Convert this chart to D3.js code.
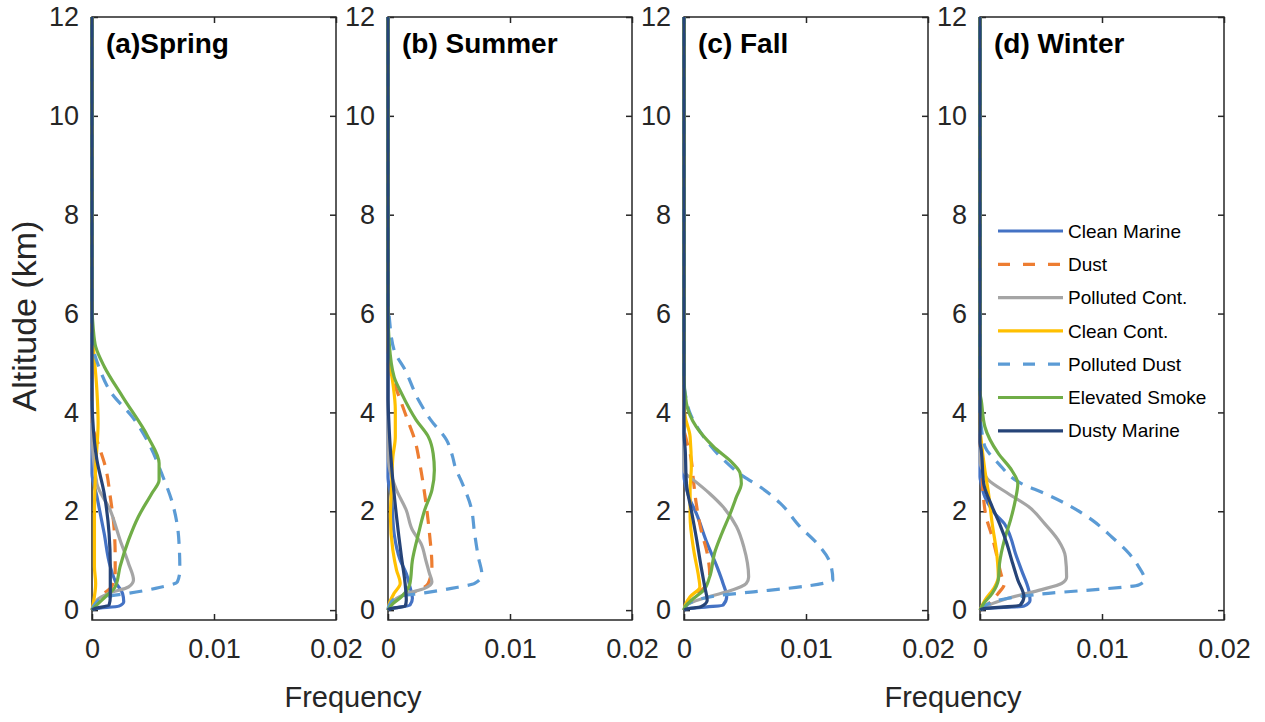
<!DOCTYPE html>
<html>
<head>
<meta charset="utf-8">
<script src="https://cdn.jsdelivr.net/npm/d3@7"></script>
<style>
  body { margin: 0; background: #fff; }
  text { font-family: "Liberation Sans", Arial, sans-serif; }
</style>
</head>
<body>
<div class="root"></div>
<script>
const width = 1265;
const height = 722;

const seriesNames = ["Clean Marine", "Dust", "Polluted Cont.", "Clean Cont.", "Polluted Dust", "Elevated Smoke", "Dusty Marine"];
const seriesColors = ["#4472C4", "#ED7D31", "#A5A5A5", "#FFC000", "#5B9BD5", "#70AD47", "#264478"];
const seriesDashed = [false, true, false, false, true, false, false];

const panelTitles = ["(a)Spring", "(b) Summer", "(c) Fall", "(d) Winter"];
const altTicks = [0, 2, 4, 6, 8, 10, 12];
const freqTicks = [0, 0.01, 0.02];

// each profile: [altitude km, frequency]
const spring = [
  [[12,0],[2.77,0],[2.3,0.0004],[1.55,0.001],[0.88,0.0015],[0.54,0.002],[0.34,0.0025],[0.17,0.0026],[0.08,0.0022],[0.03,0.0003],[0,0]],
  [[12,0],[3.8,0],[3.37,0.0005],[2.9,0.0011],[2.29,0.0015],[1.69,0.0018],[1.08,0.0019],[0.74,0.0019],[0.47,0.0016],[0.3,0.0008],[0.1,0.0002],[0,0]],
  [[12,0],[3.64,0],[2.56,0.0004],[2.02,0.0015],[1.42,0.0023],[0.94,0.003],[0.61,0.0034],[0.47,0.003],[0.34,0.0014],[0.2,0.0004],[0,0]],
  [[12,0],[5.6,0],[5.33,0.0001],[4.45,0.0004],[3.78,0.0005],[2.9,0.0003],[1.89,0.0002],[0.88,0.0002],[0.54,0.0003],[0.13,0.0001],[0,0]],
  [[12,0],[5.6,0],[5.3,0.0001],[4.93,0.00055],[4.39,0.0016],[3.91,0.0033],[3.3,0.0048],[2.77,0.0057],[2.16,0.0066],[1.48,0.0071],[0.81,0.0072],[0.57,0.007],[0.44,0.0052],[0.34,0.003],[0.27,0.0011],[0.07,0.0001],[0,0]],
  [[12,0],[6.2,0],[5.7,0.0001],[5.33,0.0003],[4.93,0.001],[4.32,0.0025],[3.5,0.0046],[2.97,0.0055],[2.63,0.0055],[2.36,0.0049],[1.89,0.0038],[1.42,0.003],[0.88,0.0023],[0.47,0.0019],[0.27,0.0011],[0.13,0.0005],[0,0]],
  [[12,0],[4.3,0],[3.9,0.00005],[3.04,0.0004],[2.36,0.001],[1.55,0.0014],[0.88,0.0015],[0.27,0.0015],[0.1,0.0014],[0.03,0.0002],[0,0]]
];

const summer = [
  [[12,0],[2.7,0],[2.23,0.0003],[1.55,0.0005],[1.01,0.001],[0.74,0.0015],[0.47,0.0018],[0.24,0.002],[0.1,0.0018],[0.03,0.0002],[0,0]],
  [[12,0],[5.0,0],[4.72,0.0003],[4.39,0.0008],[3.85,0.0016],[3.44,0.0022],[2.97,0.0026],[2.36,0.003],[1.55,0.0034],[0.88,0.0036],[0.54,0.0033],[0.4,0.0025],[0.27,0.0011],[0.1,0.0002],[0,0]],
  [[12,0],[3.24,0],[2.9,0.0001],[2.43,0.0007],[2.02,0.0015],[1.62,0.002],[1.35,0.0027],[1.01,0.0031],[0.74,0.0034],[0.57,0.0036],[0.44,0.003],[0.34,0.0016],[0.2,0.0005],[0,0]],
  [[12,0],[5.4,0],[5.06,0.0001],[4.59,0.0004],[4.05,0.0006],[3.51,0.0006],[3.1,0.0004],[2.56,0.0003],[1.89,0.0002],[1.21,0.0004],[0.81,0.0007],[0.54,0.001],[0.34,0.0005],[0.13,0.0001],[0,0]],
  [[12,0],[6.3,0],[5.94,0.0001],[5.26,0.0005],[4.86,0.0014],[4.25,0.0025],[3.85,0.0035],[3.44,0.0048],[3.1,0.0053],[2.9,0.0055],[2.56,0.0061],[2.09,0.0068],[1.55,0.0071],[1.08,0.0074],[0.71,0.0077],[0.54,0.0071],[0.44,0.0052],[0.35,0.003],[0.27,0.0008],[0.1,0.0001],[0,0]],
  [[12,0],[6.07,0],[5.4,0.0001],[4.72,0.0005],[4.39,0.0011],[3.85,0.0023],[3.51,0.0033],[3.17,0.0037],[2.83,0.0038],[2.43,0.0036],[2.02,0.003],[1.55,0.0025],[1.01,0.002],[0.54,0.0018],[0.27,0.0011],[0.13,0.0004],[0,0]],
  [[12,0],[4.3,0],[3.91,0.00005],[2.9,0.0003],[1.89,0.0007],[1.08,0.0011],[0.54,0.0014],[0.2,0.0015],[0.08,0.0014],[0.03,0.0002],[0,0]]
];

const fall = [
  [[12,0],[2.7,0],[2.56,0.0001],[2.29,0.0004],[1.96,0.001],[1.35,0.0019],[0.88,0.0027],[0.54,0.0032],[0.27,0.0035],[0.1,0.0032],[0.03,0.0003],[0,0]],
  [[12,0],[3.7,0],[3.44,0.0002],[3.17,0.0005],[2.56,0.0008],[2.16,0.001],[1.62,0.0014],[1.15,0.0019],[0.74,0.0021],[0.47,0.0017],[0.27,0.0008],[0.1,0.0002],[0,0]],
  [[12,0],[2.85,0],[2.77,0.0001],[2.63,0.0008],[2.36,0.0021],[2.09,0.0032],[1.69,0.0043],[1.28,0.0049],[0.67,0.0053],[0.54,0.0051],[0.37,0.0035],[0.24,0.0016],[0.1,0.0002],[0,0]],
  [[12,0],[4.2,0],[3.91,0.0001],[3.51,0.0005],[2.9,0.0006],[2.43,0.0005],[1.89,0.0005],[1.21,0.0008],[0.67,0.0012],[0.47,0.0013],[0.27,0.0005],[0.1,0.0001],[0,0]],
  [[12,0],[4.6,0],[4.39,0.0001],[3.98,0.0005],[3.51,0.0016],[3.1,0.003],[2.7,0.0049],[2.5,0.0062],[2.16,0.0079],[1.69,0.0095],[1.35,0.0109],[0.94,0.012],[0.61,0.0122],[0.54,0.0114],[0.46,0.0092],[0.37,0.0057],[0.3,0.003],[0.2,0.001],[0.07,0.0001],[0,0]],
  [[12,0],[4.72,0],[4.18,0.0002],[3.71,0.001],[3.31,0.0024],[2.97,0.004],[2.77,0.0046],[2.56,0.0047],[2.29,0.0043],[1.96,0.0038],[1.55,0.0031],[1.15,0.0025],[0.67,0.0021],[0.4,0.0016],[0.24,0.0008],[0.07,0.0001],[0,0]],
  [[12,0],[3.6,0],[3.24,0.0001],[2.56,0.0002],[2.02,0.0006],[1.48,0.001],[0.88,0.0014],[0.47,0.0017],[0.2,0.0019],[0.07,0.0014],[0.02,0.0002],[0,0]]
];

const winter = [
  [[12,0],[2.7,0],[2.56,0.0001],[2.29,0.0004],[1.96,0.0012],[1.75,0.002],[1.48,0.0025],[1.15,0.0029],[0.81,0.0034],[0.4,0.004],[0.2,0.0041],[0.08,0.0036],[0.03,0.0003],[0,0]],
  [[12,0],[3.3,0],[3.04,0.0001],[2.23,0.0003],[1.89,0.0005],[1.48,0.001],[1.08,0.0014],[0.67,0.0018],[0.54,0.002],[0.34,0.0015],[0.13,0.0007],[0,0]],
  [[12,0],[3.0,0],[2.9,0.0001],[2.63,0.0007],[2.36,0.0023],[2.09,0.004],[1.75,0.0053],[1.42,0.0064],[1.08,0.007],[0.67,0.0071],[0.54,0.0067],[0.4,0.0048],[0.24,0.0023],[0.1,0.0007],[0,0]],
  [[12,0],[3.7,0],[3.44,0.0001],[2.83,0.0004],[2.36,0.0007],[1.75,0.001],[1.08,0.0014],[0.67,0.0015],[0.47,0.0012],[0.2,0.0004],[0,0]],
  [[12,0],[3.9,0],[3.71,0.0001],[3.31,0.0004],[2.97,0.0015],[2.56,0.0034],[2.36,0.0053],[2.09,0.0075],[1.82,0.0092],[1.48,0.0108],[1.15,0.0122],[0.88,0.013],[0.61,0.0135],[0.51,0.013],[0.42,0.0097],[0.34,0.0056],[0.24,0.0023],[0.13,0.0007],[0,0]],
  [[12,0],[4.4,0],[4.25,0.0001],[3.71,0.0004],[3.17,0.0015],[2.83,0.0026],[2.56,0.0031],[2.23,0.0029],[1.82,0.0025],[1.42,0.002],[0.94,0.0016],[0.61,0.0015],[0.34,0.001],[0.13,0.0003],[0,0]],
  [[12,0],[3.4,0],[3.24,0.0001],[2.56,0.0003],[2.09,0.001],[1.75,0.0016],[1.35,0.0022],[1.01,0.0026],[0.61,0.0031],[0.27,0.0036],[0.1,0.0033],[0.03,0.0003],[0,0]]
];

const seasons = [spring, summer, fall, winter];

const panelLefts = [92, 388, 684, 980];
const panelWidth = 244;
const plotTop = 17;
const plotBottom = 620;
const axisColor = "#262626";

const svg = d3
  .select(".root")
  .append("svg")
  .attr("width", width)
  .attr("height", height);

const y = d3.scaleLinear().domain([-0.2, 12]).range([plotBottom, plotTop]);

seasons.forEach((profiles, i) => {
  const left = panelLefts[i];
  const x = d3.scaleLinear().domain([0, 0.02]).range([left, left + panelWidth]);
  const g = svg.append("g");

  g.append("rect")
    .attr("x", left)
    .attr("y", plotTop)
    .attr("width", panelWidth)
    .attr("height", plotBottom - plotTop)
    .attr("fill", "none")
    .attr("stroke", axisColor)
    .attr("stroke-width", 1.5);

  // axes with inward ticks
  const yAxis = g
    .append("g")
    .attr("transform", `translate(${left},0)`)
    .call(d3.axisLeft(y).tickValues(altTicks).tickSize(-6).tickSizeOuter(0).tickPadding(13));
  const yAxisR = g
    .append("g")
    .attr("transform", `translate(${left + panelWidth},0)`)
    .call(d3.axisRight(y).tickValues(altTicks).tickSize(-6).tickSizeOuter(0).tickFormat(""));
  const xAxis = g
    .append("g")
    .attr("transform", `translate(0,${plotBottom})`)
    .call(d3.axisBottom(x).tickValues(freqTicks).tickSize(-6).tickSizeOuter(0).tickPadding(19).tickFormat(d3.format("~g")));
  const xAxisT = g
    .append("g")
    .attr("transform", `translate(0,${plotTop})`)
    .call(d3.axisTop(x).tickValues(freqTicks).tickSize(-6).tickSizeOuter(0).tickFormat(""));

  [yAxis, yAxisR, xAxis, xAxisT].forEach((a) => {
    a.select(".domain").remove();
    a.selectAll("line").attr("stroke", axisColor).attr("stroke-width", 1.5);
    a.selectAll("text").attr("fill", axisColor).style("font-size", "27px");
  });

  const line = d3
    .line()
    .x((d) => x(d[1]))
    .y((d) => y(d[0]))
    .curve(d3.curveMonotoneY);

  profiles.forEach((p, k) => {
    const pts = p.slice().sort((a, b) => d3.ascending(a[0], b[0]));
    g.append("path")
      .attr("d", line(pts))
      .attr("fill", "none")
      .attr("stroke", seriesColors[k])
      .attr("stroke-width", 3.2)
      .attr("stroke-dasharray", seriesDashed[k] ? "13,9" : null);
  });

  g.append("text")
    .attr("x", left + 14)
    .attr("y", 53)
    .attr("font-weight", "bold")
    .attr("font-size", 28)
    .attr("fill", "#000")
    .text(panelTitles[i]);
});

// legend inside panel d
const legend = svg.append("g").attr("transform", `translate(${panelLefts[3] + 18},231)`);
seriesNames.forEach((name, k) => {
  const row = legend.append("g").attr("transform", `translate(0,${k * 33.3})`);
  row.append("line")
    .attr("x1", 0)
    .attr("x2", 65)
    .attr("stroke", seriesColors[k])
    .attr("stroke-width", 3.2)
    .attr("stroke-dasharray", seriesDashed[k] ? "12,13" : null);
  row.append("text")
    .attr("x", 70)
    .attr("dy", "0.35em")
    .attr("font-size", 19)
    .attr("fill", "#000")
    .text(name);
});

// axis titles
svg.append("text")
  .attr("transform", "translate(36,316) rotate(-90)")
  .attr("text-anchor", "middle")
  .attr("font-size", 34)
  .attr("fill", axisColor)
  .text("Altitude (km)");

[353, 953].forEach((cx) => {
  svg.append("text")
    .attr("x", cx)
    .attr("y", 707)
    .attr("text-anchor", "middle")
    .attr("font-size", 29)
    .attr("fill", axisColor)
    .text("Frequency");
});
</script>
</body>
</html>
